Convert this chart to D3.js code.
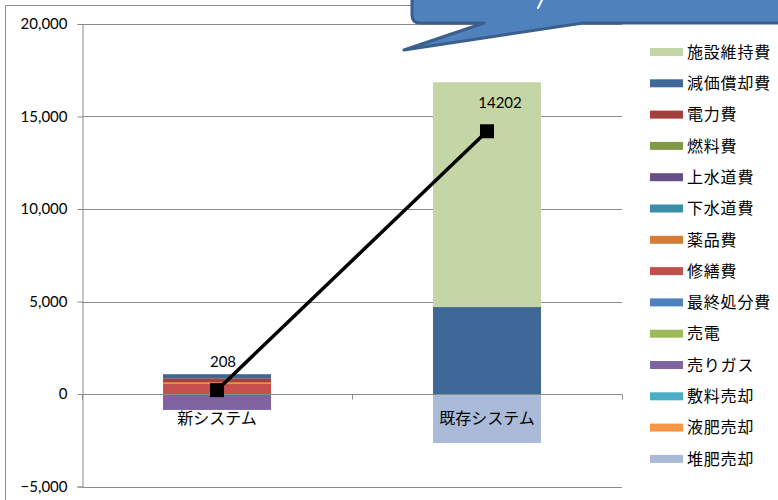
<!DOCTYPE html>
<html>
<head>
<meta charset="utf-8">
<script src="https://cdn.jsdelivr.net/npm/d3@7/dist/d3.min.js"></script>
<style>
  html, body { margin: 0; padding: 0; background: #fff; }
  svg { display: block; }
</style>
</head>
<body>
<svg id="chart" width="778" height="500"></svg>
<script>
// Systems compared
const categories = ["新システム", "既存システム"];

// Cost / revenue items, in legend order (top of stack first)
const seriesNames = ["施設維持費", "減価償却費", "電力費", "燃料費", "上水道費", "下水道費",
  "薬品費", "修繕費", "最終処分費", "売電", "売りガス", "敷料売却", "液肥売却", "堆肥売却"];

// Values per item: [新システム, 既存システム]
const 施設維持費 = [0, 12152];
const 減価償却費 = [220, 4700];
const 電力費 = [200, 0];
const 燃料費 = [0, 0];
const 上水道費 = [0, 0];
const 下水道費 = [0, 0];
const 薬品費 = [90, 0];
const 修繕費 = [560, 0];
const 最終処分費 = [0, 0];
const 売電 = [0, 0];
const 売りガス = [-862, 0];
const 敷料売却 = [0, 0];
const 液肥売却 = [0, 0];
const 堆肥売却 = [0, -2650];

// Net total per system (line series)
const netTotals = [208, 14202];

// Axis ticks
const yTicks = [-5000, 0, 5000, 10000, 15000, 20000];

const seriesValues = {施設維持費, 減価償却費, 電力費, 燃料費, 上水道費, 下水道費,
  薬品費, 修繕費, 最終処分費, 売電, 売りガス, 敷料売却, 液肥売却, 堆肥売却};

const colors = {
  "施設維持費": "#C4D6A6", "減価償却費": "#3F6898", "電力費": "#A3403D", "燃料費": "#7E9A47",
  "上水道費": "#654F89", "下水道費": "#3A8FA6", "薬品費": "#D27E38", "修繕費": "#C4504E",
  "最終処分費": "#4F81BD", "売電": "#9BBB59", "売りガス": "#8064A2", "敷料売却": "#4BACC6",
  "液肥売却": "#F79646", "堆肥売却": "#AABBD9"
};

const svg = d3.select("#chart");
const plot = {left: 82, right: 622, top: 24, bottom: 486.5};

const x = d3.scaleBand().domain(categories).range([plot.left, plot.right]).padding(0);
const y = d3.scaleLinear().domain([-5000, 20000]).range([plot.bottom, plot.top]);
const barW = x.bandwidth() * 0.4;

// Outer chart frame (left and top edges visible)
svg.append("path")
  .attr("d", "M5.5,500 V5.5 H778")
  .attr("fill", "none").attr("stroke", "#8c8c8c").attr("stroke-width", 1);

// Gridlines
svg.append("g").selectAll("line").data(yTicks).join("line")
  .attr("x1", plot.left).attr("x2", plot.right)
  .attr("y1", d => Math.round(y(d)) + 0.5).attr("y2", d => Math.round(y(d)) + 0.5)
  .attr("stroke", "#8a8a8a").attr("stroke-width", 1);

// Stacked bars (diverging around zero)
const rows = categories.map((c, i) => {
  const r = {category: c};
  seriesNames.forEach(s => r[s] = seriesValues[s][i]);
  return r;
});
const stackKeys = seriesNames.slice().reverse();
const stacked = d3.stack().keys(stackKeys).offset(d3.stackOffsetDiverging)(rows);

svg.append("g").selectAll("g").data(stacked).join("g")
  .attr("fill", d => colors[d.key])
  .selectAll("rect").data(d => d.filter(p => p[1] !== p[0])).join("rect")
  .attr("x", d => x(d.data.category) + (x.bandwidth() - barW) / 2)
  .attr("width", barW)
  .attr("y", d => y(Math.max(d[0], d[1])))
  .attr("height", d => Math.abs(y(d[0]) - y(d[1])));

// Y axis
const yAxis = d3.axisLeft(y).tickValues(yTicks).tickSize(5).tickPadding(10)
  .tickFormat(d3.format(","));
const gy = svg.append("g").attr("transform", `translate(${plot.left + 0.5},0)`).call(yAxis);
gy.select(".domain").attr("stroke", "#8a8a8a");
gy.selectAll(".tick line").attr("stroke", "#8a8a8a");
gy.selectAll(".tick text").attr("font-family", "Lato, 'Open Sans', sans-serif")
  .attr("font-size", 15).attr("fill", "#000");

// Zero axis with category separators
const zeroY = Math.round(y(0)) + 0.5;
svg.append("line").attr("x1", plot.left).attr("x2", plot.right)
  .attr("y1", zeroY).attr("y2", zeroY).attr("stroke", "#8a8a8a");
svg.append("g").selectAll("line").data([plot.left, x(categories[1]), plot.right]).join("line")
  .attr("x1", d => Math.round(d) + 0.5).attr("x2", d => Math.round(d) + 0.5)
  .attr("y1", zeroY).attr("y2", zeroY + 5).attr("stroke", "#8a8a8a");

// Category labels
svg.append("g").selectAll("text").data(categories).join("text")
  .attr("x", d => x(d) + x.bandwidth() / 2)
  .attr("y", zeroY + 29)
  .attr("text-anchor", "middle")
  .attr("font-family", "'Noto Sans CJK JP', sans-serif")
  .attr("font-size", 16).attr("fill", "#000")
  .text(d => d);

// Net total line
const linePts = categories.map((c, i) => [x(c) + x.bandwidth() / 2, y(netTotals[i])]);
svg.append("path").attr("d", d3.line()(linePts))
  .attr("fill", "none").attr("stroke", "#000").attr("stroke-width", 3.5);
svg.append("g").selectAll("rect").data(linePts).join("rect")
  .attr("x", d => d[0] - 7).attr("y", d => d[1] - 7)
  .attr("width", 14).attr("height", 14).attr("fill", "#000");
svg.append("g").selectAll("text").data(netTotals).join("text")
  .attr("x", (d, i) => linePts[i][0] + 6 + i * 7)
  .attr("y", (d, i) => linePts[i][1] - 23)
  .attr("text-anchor", "middle")
  .attr("font-family", "Lato, 'Open Sans', sans-serif")
  .attr("font-size", 15).attr("fill", "#000")
  .text(d => d);

// Legend
const legend = svg.append("g").attr("transform", "translate(650,52)");
const li = legend.selectAll("g").data(seriesNames).join("g")
  .attr("transform", (d, i) => `translate(0,${i * 31.3})`);
li.append("rect").attr("x", 0).attr("y", -4).attr("width", 33).attr("height", 8)
  .attr("fill", d => colors[d]);
li.append("text").attr("x", 37).attr("y", 0).attr("dy", "0.36em")
  .attr("font-family", "'Noto Sans CJK JP', sans-serif")
  .attr("font-size", 16).attr("letter-spacing", 0.8).attr("fill", "#000")
  .text(d => d);

// Callout box with pointer (its lettering runs above the page edge; only a tail stroke shows)
svg.append("path")
  .attr("d", "M420,-20 H790 V23 H583 L404,50 L484,23 H420 Q412,23 412,15 V-12 Q412,-20 420,-20 Z")
  .attr("fill", "#4F81BD").attr("stroke", "#3A5F8D").attr("stroke-width", 3)
  .attr("stroke-linejoin", "round");
svg.append("path").attr("d", "M542,0 L538,8")
  .attr("stroke", "#fff").attr("stroke-width", 2).attr("stroke-linecap", "round");
</script>
</body>
</html>
